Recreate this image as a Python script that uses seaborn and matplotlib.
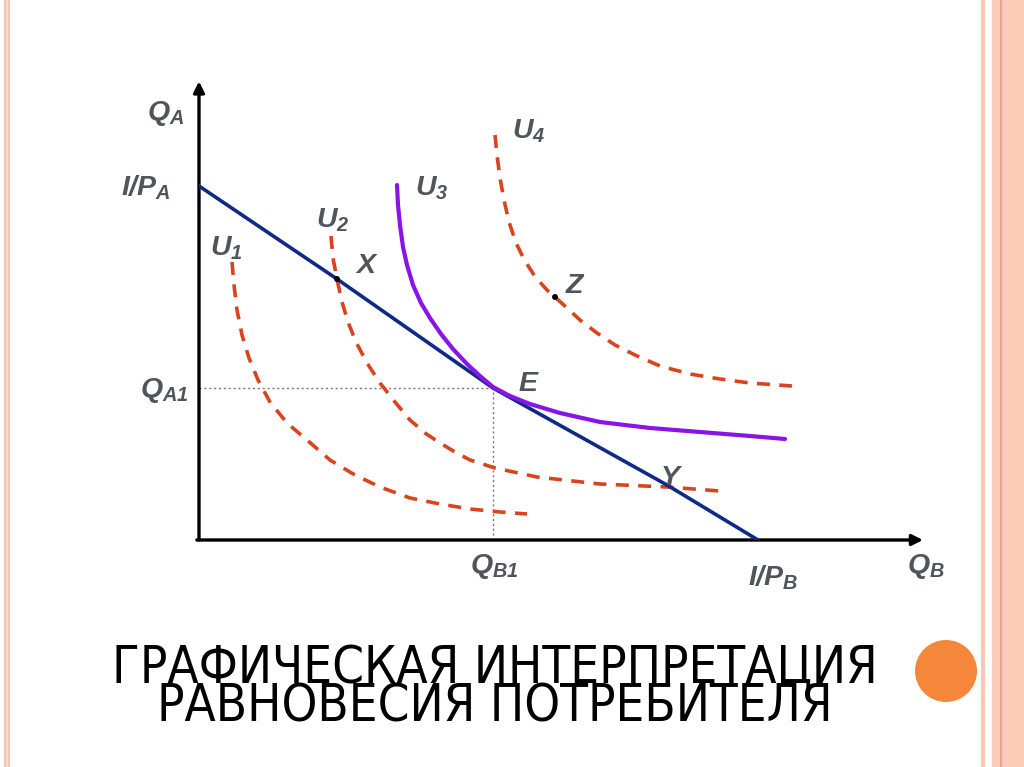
import matplotlib
matplotlib.use("Agg")
import matplotlib.pyplot as plt
from matplotlib.patches import Rectangle, Ellipse
import seaborn as sns
import pandas as pd

# coordinates in chart units (origin at the axes corner)
budget_x = [0.00, 2.76, 5.88, 9.36, 11.18]
budget_y = [7.08, 5.22, 3.04, 1.10, 0.00]

u1_x = [0.66, 0.70, 0.76, 0.86, 1.00, 1.18, 1.42, 1.76, 2.16, 2.62, 3.12, 3.62,
        4.22, 4.82, 5.42, 6.02, 6.56]
u1_y = [5.56, 5.10, 4.60, 4.10, 3.64, 3.20, 2.76, 2.34, 2.00, 1.60, 1.30, 1.06,
        0.84, 0.72, 0.62, 0.56, 0.52]

u2_x = [2.64, 2.68, 2.76, 2.86, 2.98, 3.14, 3.36, 3.62, 3.92, 4.22, 4.52, 4.82,
        5.12, 5.42, 5.92, 6.76, 8.02, 9.36, 10.42]
u2_y = [6.08, 5.64, 5.22, 4.76, 4.36, 3.96, 3.54, 3.14, 2.76, 2.40, 2.14, 1.94,
        1.76, 1.60, 1.44, 1.26, 1.12, 1.06, 0.98]

u3_x = [3.96, 3.98, 4.02, 4.08, 4.16, 4.28, 4.44, 4.62, 4.84, 5.08, 5.36, 5.62,
        5.88, 6.22, 6.62, 7.22, 8.02, 9.02, 10.02, 11.02, 11.72]
u3_y = [7.10, 6.70, 6.30, 5.86, 5.50, 5.10, 4.74, 4.44, 4.12, 3.82, 3.52, 3.28,
        3.06, 2.88, 2.72, 2.54, 2.36, 2.24, 2.16, 2.08, 2.02]

u4_x = [5.92, 5.96, 6.02, 6.10, 6.20, 6.34, 6.52, 6.74, 6.98, 7.12, 7.36, 7.62,
        7.96, 8.32, 8.72, 9.22, 9.82, 10.42, 11.02, 11.86]
u4_y = [8.10, 7.70, 7.24, 6.80, 6.36, 5.94, 5.58, 5.24, 4.98, 4.86, 4.64, 4.40,
        4.14, 3.90, 3.70, 3.48, 3.32, 3.22, 3.14, 3.08]

point_names = ["X", "Z"]
point_x = [2.76, 7.12]
point_y = [5.22, 4.86]

eq_x, eq_y = 5.88, 3.04

title_lines = ["ГРАФИЧЕСКАЯ ИНТЕРПРЕТАЦИЯ", "РАВНОВЕСИЯ ПОТРЕБИТЕЛЯ"]

sns.set_style("white")
plt.rcParams["mathtext.fontset"] = "custom"
plt.rcParams["mathtext.rm"] = "Liberation Sans:italic:bold"
plt.rcParams["mathtext.it"] = "Liberation Sans:italic:bold"
plt.rcParams["mathtext.bf"] = "Liberation Sans:italic:bold"

ORANGE = "#d9441e"
NAVY = "#0f2a86"
PURPLE = "#8a14e6"
LABEL = "#50555c"

fig = plt.figure(figsize=(10.24, 7.67), dpi=100)
fig.patch.set_facecolor("white")

# slide border stripes
fig.add_artist(Rectangle((4 / 1024, 0), 6 / 1024, 1, transform=fig.transFigure,
                         color="#f6c6b2", lw=0))
fig.add_artist(Rectangle((6 / 1024, 0), 2 / 1024, 1, transform=fig.transFigure,
                         color="#fbdccf", lw=0))
fig.add_artist(Rectangle((981 / 1024, 0), 4 / 1024, 1, transform=fig.transFigure,
                         color="#f8c8b4", lw=0))
fig.add_artist(Rectangle((992 / 1024, 0), 32 / 1024, 1, transform=fig.transFigure,
                         color="#fcccb8", lw=0))
fig.add_artist(Rectangle((1000 / 1024, 0), 1.5 / 1024, 1, transform=fig.transFigure,
                         color="#eba68c", lw=0))
fig.add_artist(Ellipse((946 / 1024, 1 - 671 / 767), 62 / 1024, 62 / 767,
                       transform=fig.transFigure, color="#f4873a", lw=0))

ax = fig.add_axes([199 / 1024, 227 / 767, 724 / 1024, 455 / 767])
ax.set_xlim(0, 14.48)
ax.set_ylim(0, 9.1)
ax.patch.set_alpha(0)
for s in ax.spines.values():
    s.set_visible(False)
ax.set_xticks([])
ax.set_yticks([])

# axes arrows
arrow = dict(arrowstyle="-|>", lw=2.4, color="black", mutation_scale=16,
             shrinkA=0, shrinkB=0)
ax.annotate("", xy=(1, 0), xytext=(-0.003, 0), xycoords="axes fraction",
            arrowprops=arrow)
ax.annotate("", xy=(0, 1.008), xytext=(0, 0), xycoords="axes fraction",
            arrowprops=arrow)

# dotted guides to the equilibrium
ax.plot([0, eq_x], [eq_y, eq_y], ls=(0, (1.5, 2)), color="#777777", lw=1)
ax.plot([eq_x, eq_x], [0, eq_y], ls=(0, (1.5, 2)), color="#777777", lw=1)

dash = (3.6, 2.6)
for xs, ys in [(u1_x, u1_y), (u2_x, u2_y), (u4_x, u4_y)]:
    sns.lineplot(x=xs, y=ys, sort=False, estimator=None, color=ORANGE,
                 lw=2.6, ax=ax, zorder=3).lines[-1].set_dashes(dash)

sns.lineplot(x=budget_x, y=budget_y, sort=False, estimator=None, color=NAVY,
             lw=2.6, ax=ax, zorder=4)
sns.lineplot(x=u3_x, y=u3_y, sort=False, estimator=None, color=PURPLE,
             lw=3.0, ax=ax, zorder=5)

pts = pd.DataFrame({"name": point_names, "x": point_x, "y": point_y})
sns.scatterplot(data=pts, x="x", y="y", color="black", s=18, ax=ax, zorder=6,
                edgecolor="none")

labels = [
    (-1.04, 8.40, r"$Q_A$"),
    (-1.56, 6.90, r"$I/P_A$"),
    (0.22, 5.70, r"$U_1$"),
    (2.34, 6.26, r"$U_2$"),
    (3.12, 5.34, r"$X$"),
    (4.32, 6.90, r"$U_3$"),
    (6.26, 8.04, r"$U_4$"),
    (7.32, 4.94, r"$Z$"),
    (6.38, 2.98, r"$E$"),
    (9.22, 1.10, r"$Y$"),
    (-1.18, 2.86, r"$Q_{A1}$"),
    (5.42, -0.66, r"$Q_{B1}$"),
    (10.98, -0.90, r"$I/P_B$"),
    (14.16, -0.66, r"$Q_B$"),
]
for lx, ly, txt in labels:
    ax.text(lx, ly, txt, fontsize=20.5, color=LABEL, ha="left", va="baseline",
            zorder=7)

fig.text(495 / 1024, 1 - 722 / 767, "\n".join(title_lines), ha="center",
         va="baseline", multialignment="center", linespacing=0.72,
         fontsize=36.5, family="DejaVu Sans", fontstretch="condensed",
         color="black")

fig.savefig("out.png", dpi=100)
